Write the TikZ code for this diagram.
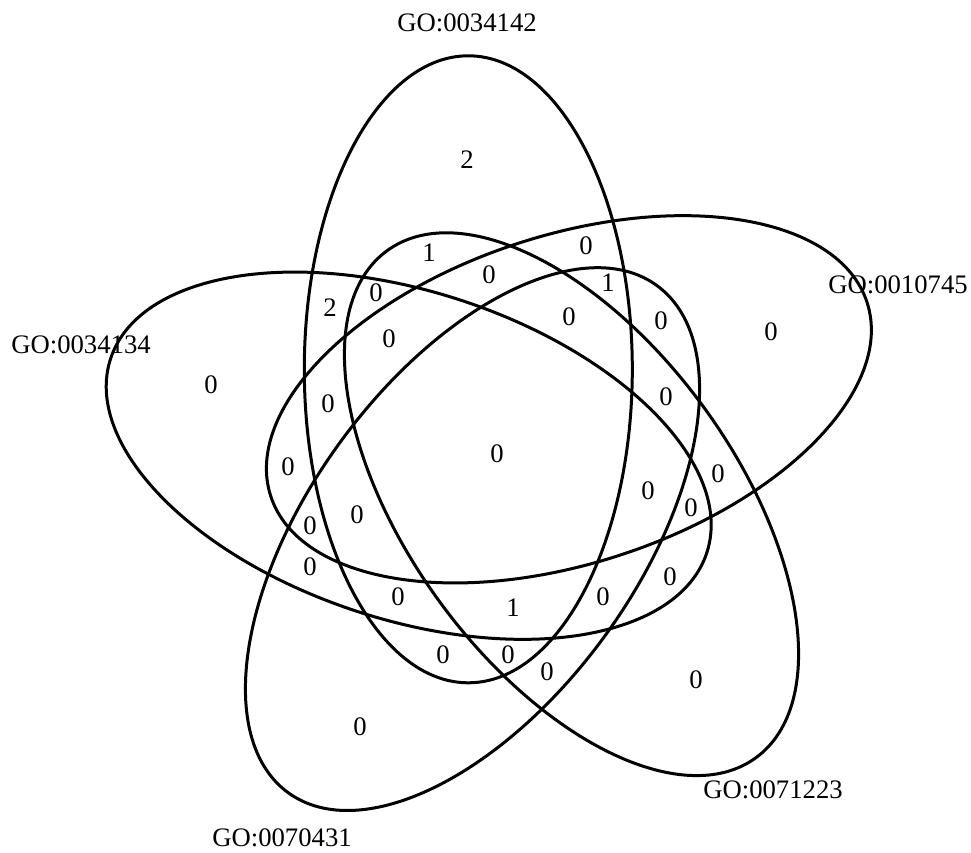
\documentclass[tikz,border=0pt]{standalone}
\usepackage{fontspec}
\setmainfont{Liberation Serif}
\usepackage{tikz}

\tikzset{
  setline/.style={line width=0.6mm},
  count/.style={font=\fontsize{15.2}{18}\selectfont, inner sep=0pt},
  setname/.style={font=\fontsize{15.2}{18}\selectfont, inner sep=0pt}
}

\begin{document}
\begin{tikzpicture}[x=0.2mm,y=0.2mm]
\useasboundingbox (0,0) rectangle (971,852);

% Ellipses
\draw[setline, rotate around={90:(468.3,482.7)}] (468.3,482.7) ellipse [x radius=313.5, y radius=164];
\draw[setline, rotate around={18:(568.9,452.7)}] (568.9,452.7) ellipse [x radius=313.5, y radius=164];
\draw[setline, rotate around={-54:(571.5,347.8)}] (571.5,347.8) ellipse [x radius=313.5, y radius=164];
\draw[setline, rotate around={-126:(472.5,312.9)}] (472.5,312.9) ellipse [x radius=313.5, y radius=164];
\draw[setline, rotate around={162:(408.7,396.3)}] (408.7,396.3) ellipse [x radius=313.5, y radius=164];

% Set names
\node[setname] (goA) at (467,829) {GO:0034142};
\node[setname] (goB) at (898,567) {GO:0010745};
\node[setname] (goC) at (773,62) {GO:0071223};
\node[setname] (goD) at (282,14) {GO:0070431};
\node[setname] (goE) at (81,507) {GO:0034134};

% Counts
\node[count] (c1) at (467,692) {2};
\node[count] (c2) at (429,599) {1};
\node[count] (c3) at (489,577) {0};
\node[count] (c4) at (586,606) {0};
\node[count] (c5) at (608,569) {1};
\node[count] (c6) at (376,559) {0};
\node[count] (c7) at (330,544) {2};
\node[count] (c8) at (569,535) {0};
\node[count] (c9) at (661,531) {0};
\node[count] (c10) at (771,520) {0};
\node[count] (c11) at (389,513) {0};
\node[count] (c12) at (211,467) {0};
\node[count] (c13) at (328,448) {0};
\node[count] (c14) at (666,455) {0};
\node[count] (c15) at (497,398) {0};
\node[count] (c16) at (288,385) {0};
\node[count] (c17) at (718,378) {0};
\node[count] (c18) at (648,361) {0};
\node[count] (c19) at (691,344) {0};
\node[count] (c20) at (357,337) {0};
\node[count] (c21) at (310,326) {0};
\node[count] (c22) at (310,285) {0};
\node[count] (c23) at (670,275) {0};
\node[count] (c24) at (398,255) {0};
\node[count] (c25) at (513,244) {1};
\node[count] (c26) at (603,255) {0};
\node[count] (c27) at (443,197) {0};
\node[count] (c28) at (508,197) {0};
\node[count] (c29) at (547,180) {0};
\node[count] (c30) at (696,172) {0};
\node[count] (c31) at (360,125) {0};
\end{tikzpicture}
\end{document}
